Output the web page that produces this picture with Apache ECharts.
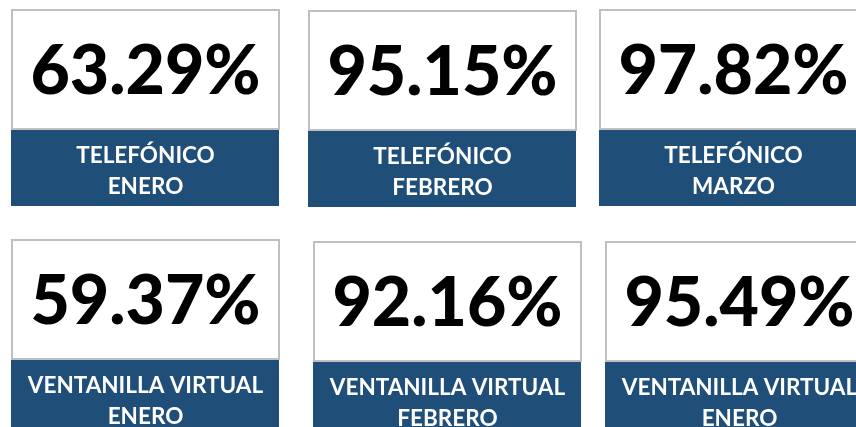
<!DOCTYPE html>
<html>
<head>
<meta charset="utf-8">
<script src="https://cdn.jsdelivr.net/npm/echarts@6/dist/echarts.min.js"></script>
<style>
  html, body { margin: 0; padding: 0; background: #fff; }
  #main { width: 856px; height: 427px; }
</style>
</head>
<body>
<div id="main"></div>
<script>
// valores de cumplimiento por canal y mes
const valores = [63.29, 95.15, 97.82, 59.37, 92.16, 95.49];
const canales = ['TELEFÓNICO', 'TELEFÓNICO', 'TELEFÓNICO', 'VENTANILLA VIRTUAL', 'VENTANILLA VIRTUAL', 'VENTANILLA VIRTUAL'];
const meses = ['ENERO', 'FEBRERO', 'MARZO', 'ENERO', 'FEBRERO', 'ENERO'];

// posicion de cada tarjeta (esquina sup. izq. del recuadro blanco)
const posiciones = [[12, 10], [309, 11], [600, 10], [12, 240], [314, 242], [606, 242]];
const anchoTarjeta = 267;
const altoValor = 119;
const altoEtiqueta = 76;

const chart = echarts.init(document.getElementById('main'));

let elementos = [];
valores.forEach((v, i) => {
  let x = posiciones[i][0];
  let y = posiciones[i][1];
  elementos.push({
    type: 'group',
    x: x,
    y: y,
    children: [
      {
        type: 'rect',
        shape: {x: 0, y: 0, width: anchoTarjeta, height: altoValor},
        style: {fill: '#ffffff', stroke: '#bfbfbf', lineWidth: 2}
      },
      {
        type: 'rect',
        shape: {x: -1, y: altoValor + 1, width: anchoTarjeta + 1, height: altoEtiqueta},
        style: {fill: '#1f4e79'}
      },
      {
        type: 'text',
        x: anchoTarjeta / 2,
        y: altoValor / 2 + 3,
        style: {
          text: v.toFixed(2) + '%',
          font: '900 68px Lato',
          fill: '#000000',
          align: 'center',
          verticalAlign: 'middle'
        }
      },
      {
        type: 'text',
        x: anchoTarjeta / 2,
        y: altoValor + 1 + altoEtiqueta / 2 + 3,
        style: {
          text: canales[i] + '\n' + meses[i],
          font: 'bold 22.5px Lato',
          lineHeight: 31,
          fill: '#ffffff',
          align: 'center',
          verticalAlign: 'middle'
        }
      }
    ]
  });
});

chart.setOption({
  animation: false,
  graphic: {elements: elementos}
});
</script>
</body>
</html>
